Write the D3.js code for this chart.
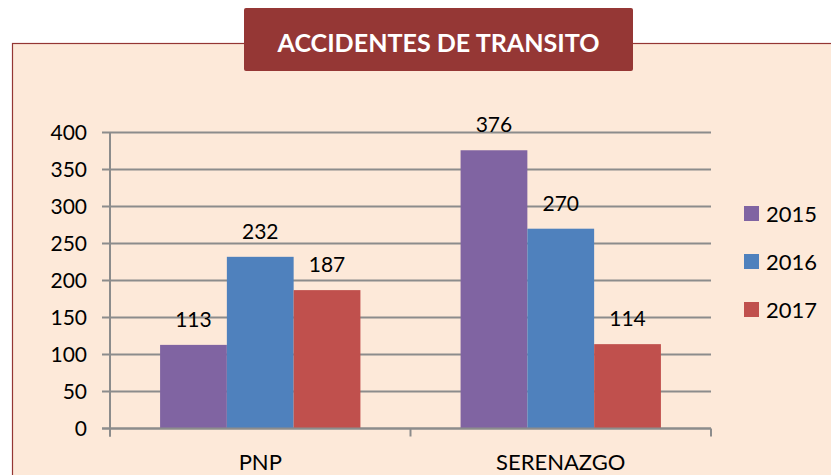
<!DOCTYPE html>
<html>
<head>
<meta charset="utf-8">
<script src="https://cdn.jsdelivr.net/npm/d3@7"></script>
<style>
  body { margin: 0; background: #fff; }
  svg text { font-family: Lato, "Open Sans", sans-serif; }
</style>
</head>
<body>
<div id="chart"></div>
<script>
// chart data
const categories = ["PNP", "SERENAZGO"];
const years = ["2015", "2016", "2017"];
const values2015 = [113, 376];
const values2016 = [232, 270];
const values2017 = [187, 114];
const yTicks = [0, 50, 100, 150, 200, 250, 300, 350, 400];
const colors = ["#8064A2", "#4F81BD", "#C0504D"];

const seriesValues = [values2015, values2016, values2017];

const W = 831, H = 475;
let svg = d3.select("#chart").append("svg")
    .attr("width", W)
    .attr("height", H);

// background panel
svg.append("rect")
    .attr("x", 12.5).attr("y", 43.5)
    .attr("width", W).attr("height", H)
    .attr("fill", "#FDE9D9")
    .attr("stroke", "#943634")
    .attr("stroke-width", 1.2);

// title box
svg.append("rect")
    .attr("x", 244).attr("y", 8)
    .attr("width", 389).attr("height", 63)
    .attr("rx", 2)
    .attr("fill", "#953735");
svg.append("text")
    .attr("x", 438.5).attr("y", 52)
    .attr("text-anchor", "middle")
    .attr("fill", "#fff")
    .attr("font-size", 25)
    .attr("font-weight", "bold")
    .attr("textLength", 322)
    .attr("lengthAdjust", "spacingAndGlyphs")
    .text("ACCIDENTES DE TRANSITO");

// scales
const plotLeft = 110, plotRight = 711, plotBottom = 428.5, plotTop = 132.5;
var x0 = d3.scaleBand().domain(categories).range([plotLeft, plotRight]);
var x1 = d3.scaleBand().domain(years).range([0, x0.bandwidth()]).paddingOuter(0.75);
var y = d3.scaleLinear().domain([0, 400]).range([plotBottom, plotTop]);

// gridlines
svg.append("g").selectAll("line")
    .data(yTicks)
    .join("line")
    .attr("x1", plotLeft - 8).attr("x2", plotRight)
    .attr("y1", d => y(d)).attr("y2", d => y(d))
    .attr("stroke", "#8c8c8c")
    .attr("stroke-width", 2);

// y axis labels
svg.append("g").selectAll("text")
    .data(yTicks)
    .join("text")
    .attr("x", 87)
    .attr("y", d => y(d))
    .attr("dy", "0.36em")
    .attr("text-anchor", "end")
    .attr("font-size", 21)
    .attr("fill", "#000")
    .text(d => d);

// bars
let groups = svg.append("g").selectAll("g")
    .data(categories)
    .join("g")
    .attr("transform", d => `translate(${x0(d)},0)`);

groups.each(function(cat, ci) {
    let g = d3.select(this);
    let data = years.map((yr, si) => ({ yr: yr, v: seriesValues[si][ci], c: colors[si] }));
    g.selectAll("rect")
        .data(data)
        .join("rect")
        .attr("x", d => x1(d.yr))
        .attr("y", d => y(d.v))
        .attr("width", x1.bandwidth())
        .attr("height", d => y(0) - y(d.v))
        .attr("fill", d => d.c);
    g.selectAll("text")
        .data(data)
        .join("text")
        .attr("x", d => x1(d.yr) + x1.bandwidth() / 2)
        .attr("y", d => y(d.v) - 18)
        .attr("text-anchor", "middle")
        .attr("font-size", 21)
        .attr("fill", "#000")
        .text(d => d.v);
});

// axes lines
svg.append("line")
    .attr("x1", plotLeft).attr("x2", plotLeft)
    .attr("y1", plotTop).attr("y2", plotBottom + 8)
    .attr("stroke", "#8c8c8c").attr("stroke-width", 2);
svg.append("line")
    .attr("x1", plotLeft - 8).attr("x2", plotRight)
    .attr("y1", plotBottom).attr("y2", plotBottom)
    .attr("stroke", "#8c8c8c").attr("stroke-width", 2);
let catTicks = categories.map(c => x0(c)).concat([plotRight]);
svg.append("g").selectAll("line")
    .data(catTicks)
    .join("line")
    .attr("x1", d => d).attr("x2", d => d)
    .attr("y1", plotBottom).attr("y2", plotBottom + 8)
    .attr("stroke", "#8c8c8c").attr("stroke-width", 2);

// category labels
svg.append("g").selectAll("text")
    .data(categories)
    .join("text")
    .attr("x", d => x0(d) + x0.bandwidth() / 2)
    .attr("y", 470)
    .attr("text-anchor", "middle")
    .attr("font-size", 22)
    .attr("fill", "#000")
    .text(d => d);

// legend
let legend = svg.append("g").selectAll("g")
    .data(years)
    .join("g")
    .attr("transform", (d, i) => `translate(744,${206 + i * 48})`);
legend.append("rect")
    .attr("width", 15).attr("height", 15)
    .attr("fill", (d, i) => colors[i]);
legend.append("text")
    .attr("x", 22).attr("y", 8)
    .attr("dy", "0.36em")
    .attr("font-size", 22)
    .attr("fill", "#000")
    .text(d => d);
</script>
</body>
</html>
